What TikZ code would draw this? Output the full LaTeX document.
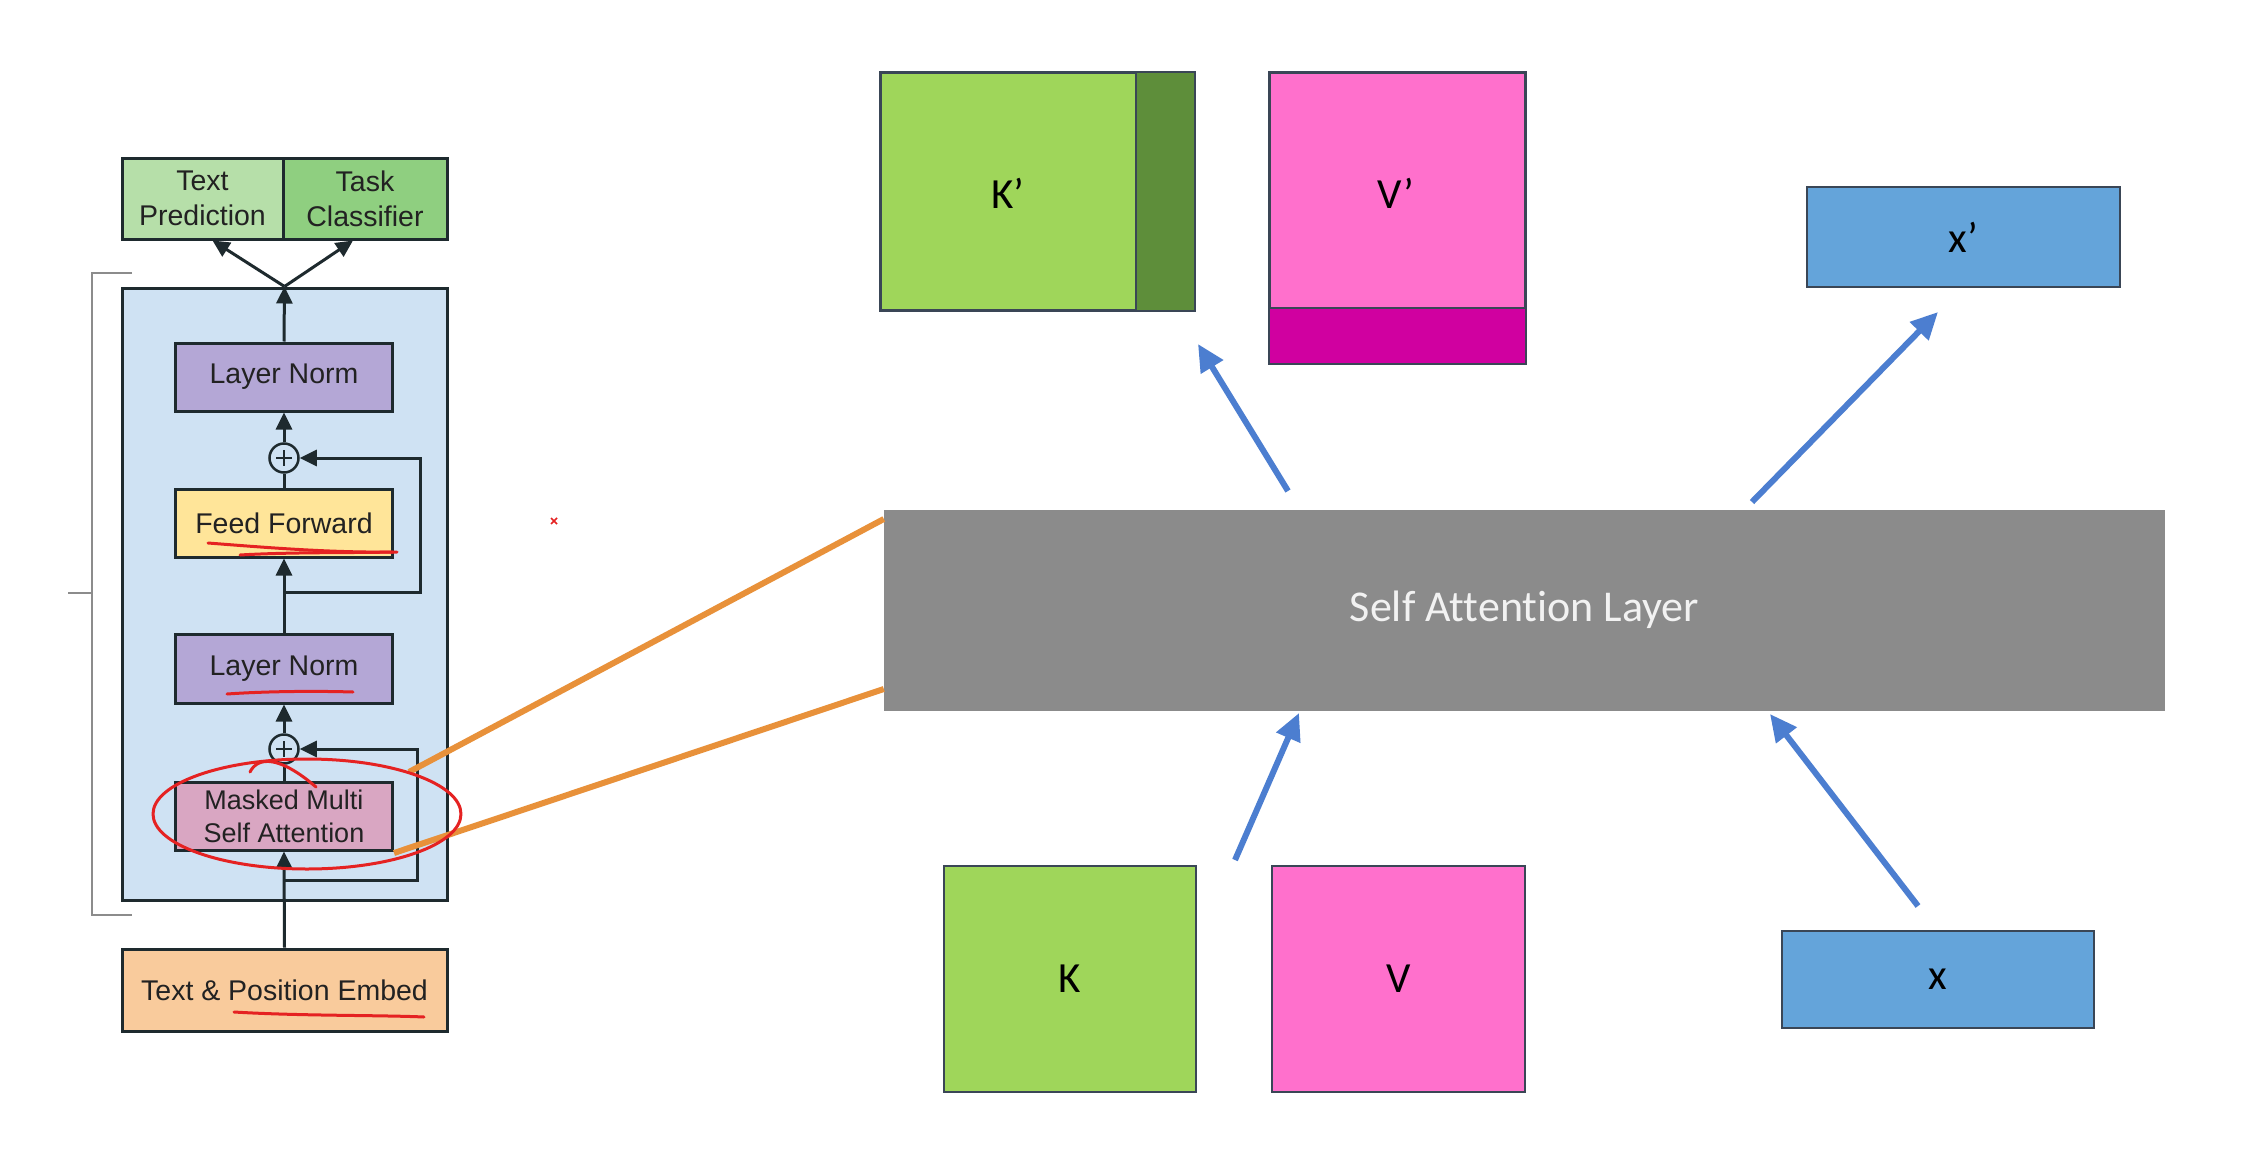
\documentclass[tikz,border=0pt]{standalone}
\usepackage{fontspec}
\setmainfont{Liberation Sans}
\newfontfamily\calfont[Ligatures={NoCommon}]{Carlito}
\usetikzlibrary{arrows.meta,calc}
\definecolor{lineC}{HTML}{1E2A2E}
\definecolor{txtC}{HTML}{222222}
\definecolor{tpC}{HTML}{B6DFA9}
\definecolor{tcC}{HTML}{8FCF80}
\definecolor{bgC}{HTML}{CFE2F3}
\definecolor{lnC}{HTML}{B4A7D6}
\definecolor{ffC}{HTML}{FFE599}
\definecolor{msaC}{HTML}{D9A6C2}
\definecolor{embC}{HTML}{F9CB9C}
\definecolor{kC}{HTML}{9FD65A}
\definecolor{kdC}{HTML}{5E8E3A}
\definecolor{vC}{HTML}{FF70CC}
\definecolor{vdC}{HTML}{D000A0}
\definecolor{xC}{HTML}{64A4DA}
\definecolor{grayC}{HTML}{8B8B8B}
\definecolor{arrC}{HTML}{4C7ED0}
\definecolor{orC}{HTML}{E8913A}
\definecolor{redC}{HTML}{E52222}
\definecolor{edgeC}{HTML}{3A4656}
\tikzset{
  blk/.style={draw=lineC, line width=3pt, inner sep=0pt, text=txtC, align=center,
              font=\fontsize{28.5}{35}\selectfont},
  inner/.style={blk, minimum width=217pt, minimum height=68pt},
  plusnode/.style={circle, draw=lineC, line width=2.5pt, fill=bgC, minimum size=29pt, inner sep=0pt},
  arr/.style={draw=lineC, line width=3pt, -{Triangle[length=17pt,width=16pt]}},
  ln/.style={draw=lineC, line width=3pt},
  mat/.style={draw=edgeC, line width=2pt, inner sep=0pt, text=black,
              font=\calfont\fontsize{43}{50}\selectfont},
  barr/.style={draw=arrC, line width=6pt, -{Triangle[length=27pt,width=25pt]}},
  orl/.style={draw=orC, line width=6pt},
  redl/.style={draw=redC, line width=3pt, line cap=round, line join=round},
  brk/.style={draw=gray!90, line width=2.5pt}
}
\begin{document}
\begin{tikzpicture}[x=1pt,y=-1pt]
\useasboundingbox (0,0) rectangle (2244,1156);
\fill[white] (0,0) rectangle (2244,1156);

% ---------- left: transformer block ----------
\draw[brk] (132,273) -- (92,273) -- (92,915) -- (132,915);
\draw[brk] (68,593) -- (92,593);

\node[blk, fill=bgC, minimum width=325pt, minimum height=612pt] (blue) at (284.5,594) {};

\node[blk, fill=tpC, minimum width=161pt, minimum height=81pt] (tp) at (202.5,198.5) {Text\\Prediction};
\node[blk, fill=tcC, minimum width=164pt, minimum height=81pt] (tc) at (365,198.5) {Task\\Classifier};

\node[inner, fill=lnC] (ln1) at (284,377) {Layer Norm};
\node[plusnode] (p1) at (284,458) {};
\node[inner, fill=ffC] (ff) at (284,523) {Feed Forward};
\node[inner, fill=lnC, minimum height=69pt] (ln2) at (284,668.5) {Layer Norm};
\node[plusnode] (p2) at (284,749) {};
\node[inner, fill=msaC, font=\fontsize{27}{33}\selectfont] (msa) at (284,816) {Masked Multi\\Self Attention};
\node[blk, fill=embC, minimum width=325pt, minimum height=82pt] (emb) at (284.5,990) {Text \& Position Embed};

% plus signs
\foreach \p in {p1,p2}{
  \draw[lineC, line width=2.5pt] ($(\p.center)+(-8,0)$) -- ($(\p.center)+(8,0)$);
  \draw[lineC, line width=2.5pt] ($(\p.center)+(0,-8)$) -- ($(\p.center)+(0,8)$);
}

% vertical flow
\draw[arr] (emb.north) -- (msa.south);
\draw[ln] (msa.north) -- (p2.south);
\draw[arr] (p2.north) -- (ln2.south);
\draw[arr] (ln2.north) -- (ff.south);
\draw[ln] (ff.north) -- (p1.south);
\draw[arr] (p1.north) -- (ln1.south);
\draw[arr] (ln1.north) -- (blue.north);
\draw[arr] (blue.north) -- ([xshift=10pt]tp.south);
\draw[arr] (blue.north) -- ([xshift=-12pt]tc.south);

% residual connections
\coordinate (r1) at (284,592);
\coordinate (r2) at (284,880);
\draw[arr] (r1) -| (420,458) -- (p1.east);
\draw[arr] (r2) -| (417,749) -- (p2.east);

% ---------- right: self attention ----------
\node[fill=grayC, minimum width=1281pt, minimum height=201pt, inner sep=0pt,
      text=white!95!black, font=\calfont\fontsize{44}{50}\selectfont] (sal) at (1524.5,610) {Self Attention Layer};

% K'
\node[mat, fill=kC, minimum width=313pt, minimum height=237pt] (kp) at (1037.5,191.5) {};
\fill[kdC] (1136,73) rectangle (1194,310);
\draw[edgeC, line width=2pt] (1136,73) -- (1136,310);
\draw[edgeC, line width=2pt] (kp.south west) rectangle (kp.north east);
\node[font=\calfont\fontsize{43}{50}\selectfont] (kpl) at (1008,193) {K’};

% V'
\node[mat, fill=vC, minimum width=255pt, minimum height=290pt] (vp) at (1397.5,218) {};
\fill[vdC] (1270,308) rectangle (1525,363);
\draw[edgeC, line width=2pt] (1270,308) -- (1525,308);
\draw[edgeC, line width=2pt] (vp.south west) rectangle (vp.north east);
\node[font=\calfont\fontsize{43}{50}\selectfont] (vpl) at (1396,193) {V’};

% x'
\node[mat, fill=xC, minimum width=313pt, minimum height=100pt] (xp) at (1963.5,237) {x’};

% K, V, x
\node[mat, fill=kC, minimum width=252pt, minimum height=226pt] (k) at (1070,979) {K};
\node[mat, fill=vC, minimum width=253pt, minimum height=226pt] (v) at (1398.5,979) {V};
\node[mat, fill=xC, minimum width=312pt, minimum height=97pt] (x) at (1938,979.5) {x};

% blue arrows
\coordinate (a1s) at (1288,491); \coordinate (a1e) at (1198,344);
\coordinate (a2s) at (1752,502); \coordinate (a2e) at (1938,312);
\coordinate (a3s) at (1235,860); \coordinate (a3e) at (1299,713);
\coordinate (a4s) at (1918,906); \coordinate (a4e) at (1770,714);
\draw[barr] (a1s) -- (a1e);
\draw[barr] (a2s) -- (a2e);
\draw[barr] (a3s) -- (a3e);
\draw[barr] (a4s) -- (a4e);

% orange zoom lines
\coordinate (o1) at (409,772);
\coordinate (o2) at (394,853);
\draw[orl] (o1) -- (sal.west |- 0,519);
\draw[orl] (o2) -- (sal.west |- 0,689);

% ---------- red annotations ----------
\draw[redl] (307,814) ellipse [x radius=154pt, y radius=55pt];
\draw[redl] (250,772) .. controls (258,756) and (280,756) .. (316,787);
\draw[redl] (208,543) .. controls (260,547) and (330,553) .. (397,552);
\draw[redl] (240,555) .. controls (290,552) and (350,553) .. (393,552);
\draw[redl] (227,694) .. controls (270,691) and (320,691) .. (353,692);
\draw[redl] (234,1012) .. controls (300,1016) and (380,1015) .. (424,1017);
\draw[redC, line width=1.5pt] (551,518) -- (557,524) (557,518) -- (551,524);
\end{tikzpicture}
\end{document}
